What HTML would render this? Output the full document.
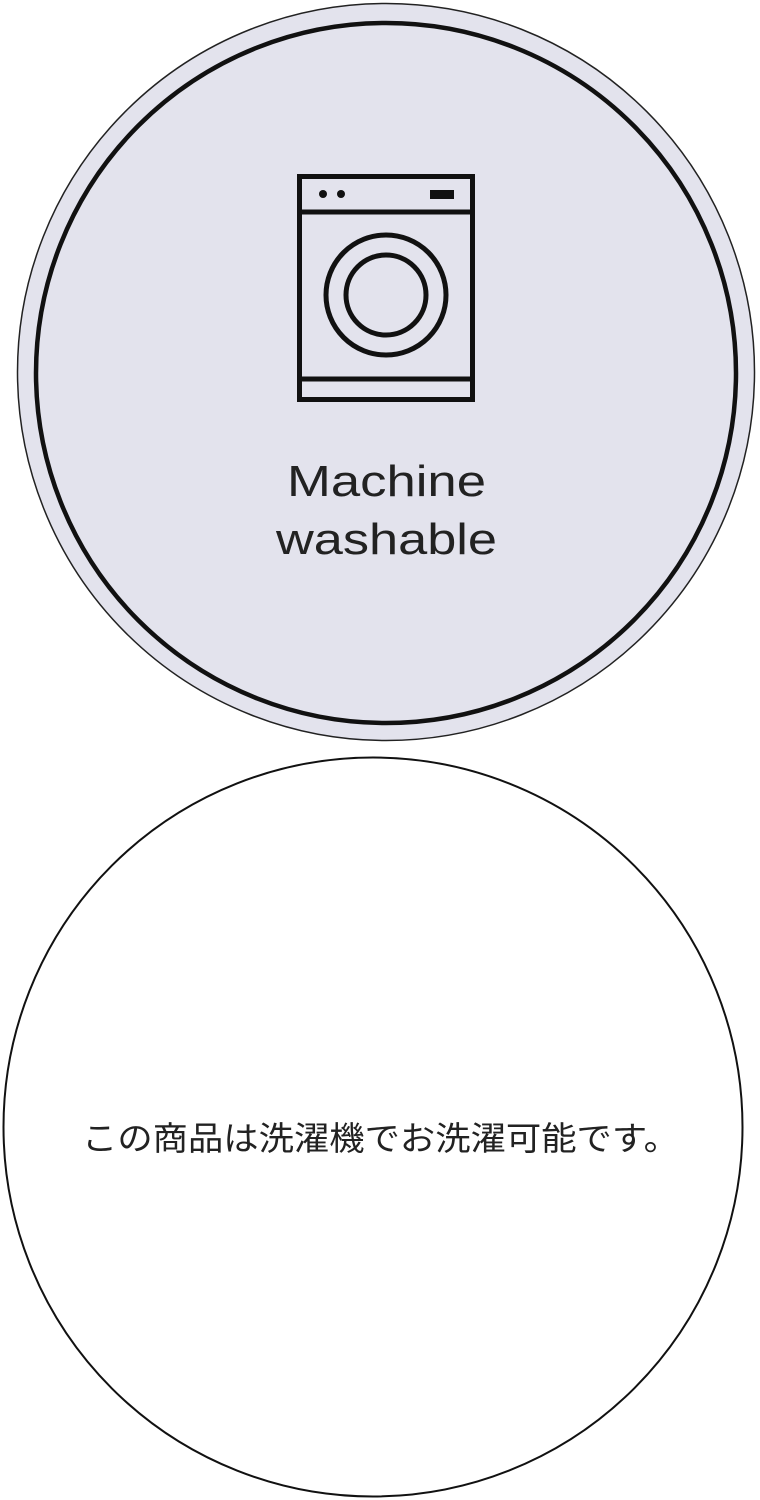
<!DOCTYPE html>
<html><head><meta charset="utf-8"><style>
html,body{margin:0;padding:0;background:#fff;width:760px;height:1500px;overflow:hidden}
</style></head><body>
<svg width="760" height="1500" viewBox="0 0 760 1500" xmlns="http://www.w3.org/2000/svg">
<circle cx="386" cy="372" r="368.5" fill="#e3e3ed" stroke="#222" stroke-width="1.5"/>
<circle cx="386" cy="373" r="350" fill="none" stroke="#111" stroke-width="4.5"/>
<g fill="none" stroke="#111" stroke-width="5">
<rect x="299.5" y="176.5" width="173" height="223"/>
<line x1="299" y1="212" x2="473" y2="212"/>
<line x1="299" y1="379" x2="473" y2="379"/>
<circle cx="386" cy="295" r="60"/>
<circle cx="386" cy="295" r="40"/>
</g>
<circle cx="323" cy="194" r="4" fill="#111"/>
<circle cx="341" cy="194" r="4" fill="#111"/>
<rect x="430" y="190" width="24" height="9" fill="#111"/>
<text x="287" y="496" textLength="199" lengthAdjust="spacingAndGlyphs" font-family="Liberation Sans, sans-serif" font-size="44" fill="#222">Machine</text>
<text x="276" y="554" textLength="221" lengthAdjust="spacingAndGlyphs" font-family="Liberation Sans, sans-serif" font-size="44" fill="#222">washable</text>
<circle cx="373" cy="1127" r="369.5" fill="#fff" stroke="#111" stroke-width="2"/>
<text x="82" y="1150" textLength="597" lengthAdjust="spacingAndGlyphs" font-family="Liberation Sans, 'Noto Sans CJK JP', sans-serif" font-size="33" fill="#222">この商品は洗濯機でお洗濯可能です。</text>
</svg>
</body></html>
